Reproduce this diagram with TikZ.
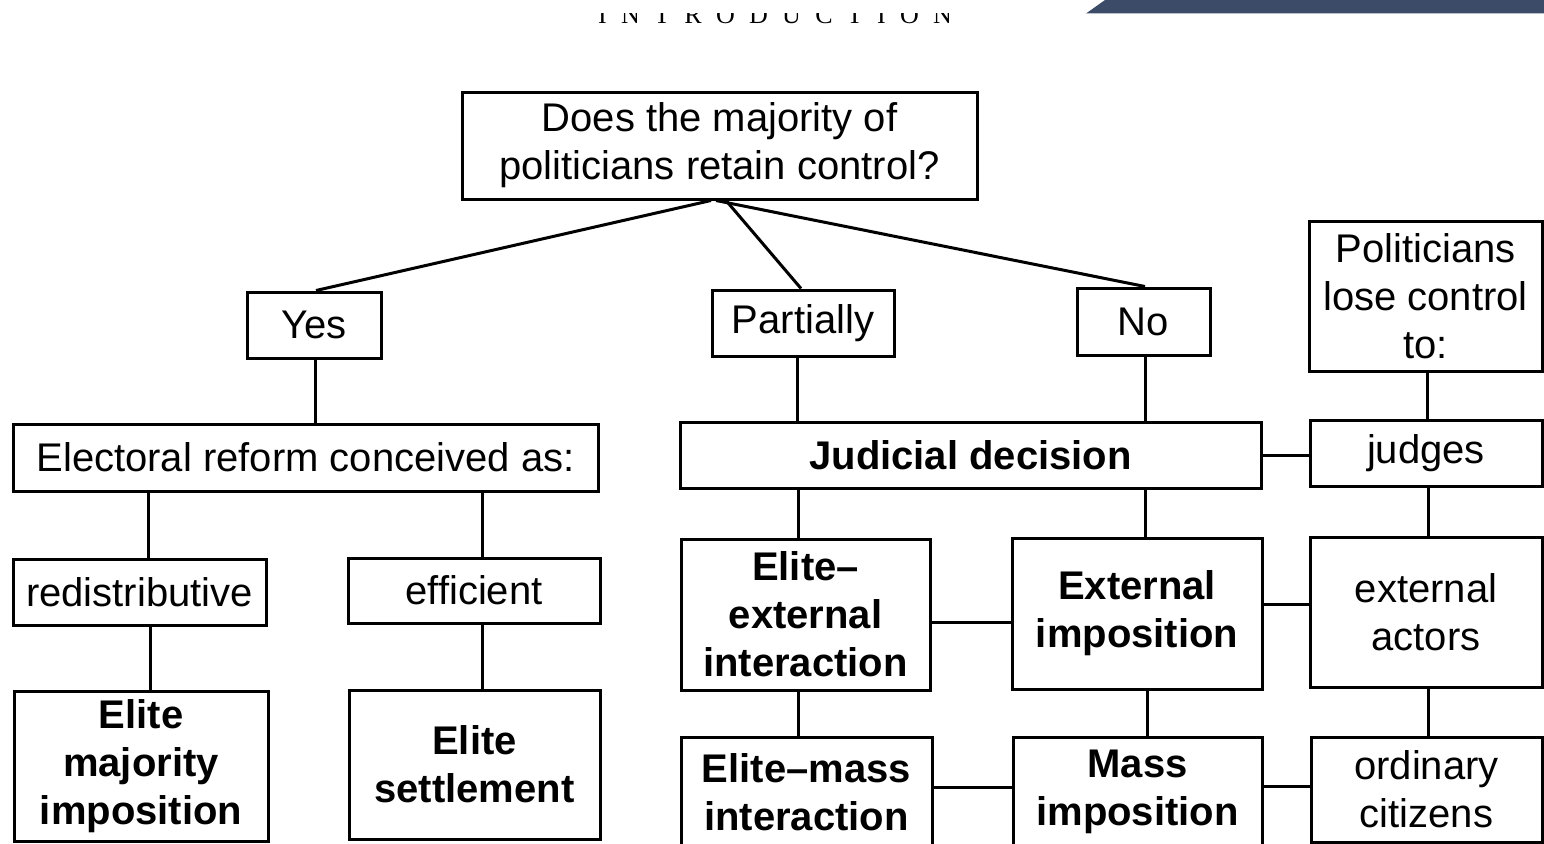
\documentclass[tikz,border=0pt]{standalone}
\usepackage{fontspec}
\setmainfont{Liberation Sans}
\newfontfamily\hdrfont[LetterSpace=55]{Liberation Serif}
\definecolor{bandblue}{HTML}{3C4B67}
\begin{document}
\begin{tikzpicture}[x=1pt,y=-1pt,
  box/.style={draw, line width=3pt, inner sep=0pt, align=center,
    font=\fontsize{40}{48}\selectfont},
  bbox/.style={box, font=\fontsize{40}{48}\selectfont\bfseries},
  link/.style={line width=3pt}]
\useasboundingbox (0,0) rectangle (1544,843);
\clip (0,0) rectangle (1544,843);
% header fragments
\node[anchor=base west, inner sep=0pt, font=\hdrfont\fontsize{26}{30}\selectfont] (hdr) at (598,24) {INTRODUCTION};
\fill[white] (560,-2) rectangle (1000,13);
\fill[bandblue] (1105,0) -- (1550,0) -- (1550,13.5) -- (1086,13.5) -- cycle;
% nodes
\node[box, minimum width=515, minimum height=107] (q) at (719.5,145.5) {Does the majority of\\politicians retain control?};
\node[box, minimum width=134, minimum height=66] (yes) at (314,325) {Yes};
\node[box, minimum width=182, minimum height=66] (part) at (803,323) {Partially};
\node[box, minimum width=133, minimum height=67] (no) at (1143.5,321.5) {No};
\node[box, minimum width=233, minimum height=150] (lose) at (1425.5,296) {Politicians\\lose control\\to:};
\node[box, minimum width=585, minimum height=67] (elect) at (305.5,457.5) {Electoral reform conceived as:};
\node[bbox, minimum width=581, minimum height=66] (jud) at (970.5,455) {Judicial decision};
\node[box, minimum width=232, minimum height=66] (judges) at (1426,453) {judges};
\node[box, minimum width=253, minimum height=66] (redis) at (139.5,592) {redistributive};
\node[box, minimum width=252, minimum height=65] (eff) at (474,590.5) {efficient};
\node[bbox, minimum width=249, minimum height=151] (eei) at (805.5,614.5) {Elite--\\external\\interaction};
\node[bbox, minimum width=250, minimum height=151] (eimp) at (1137,613.5) {External\\imposition};
\node[box, minimum width=232, minimum height=150] (eact) at (1426,612) {external\\actors};
\node[bbox, minimum width=254, minimum height=150] (emi) at (141,766) {Elite\\majority\\imposition};
\node[bbox, minimum width=251, minimum height=149] (es) at (474.5,764.5) {Elite\\settlement};
\node[bbox, minimum width=251, minimum height=110] (emass) at (806.5,792) {Elite--mass\\interaction};
\node[bbox, minimum width=249, minimum height=110] (mimp) at (1137.5,792) {Mass\\imposition};
\node[box, minimum width=231, minimum height=105] (ocit) at (1426.5,789.5) {ordinary\\citizens};
% connectors
\draw[link] (q.south -| 711,0) -- (yes.north -| 316,0);
\draw[link] (q.south -| 726,0) -- (part.north -| 801,0);
\draw[link] (q.south -| 716,0) -- (no.north -| 1145,0);
\draw[link] (yes.south -| 315,0) -- (elect.north -| 315,0);
\draw[link] (part.south -| 797,0) -- (jud.north -| 797,0);
\draw[link] (no.south -| 1145,0) -- (jud.north -| 1145,0);
\draw[link] (lose.south -| 1427,0) -- (judges.north -| 1427,0);
\draw[link] (jud.east |- 0,455) -- (judges.west |- 0,455);
\draw[link] (elect.south -| 148,0) -- (redis.north -| 148,0);
\draw[link] (elect.south -| 482,0) -- (eff.north -| 482,0);
\draw[link] (redis.south -| 150,0) -- (emi.north -| 150,0);
\draw[link] (eff.south -| 482,0) -- (es.north -| 482,0);
\draw[link] (jud.south -| 798,0) -- (eei.north -| 798,0);
\draw[link] (jud.south -| 1145,0) -- (eimp.north -| 1145,0);
\draw[link] (judges.south -| 1428,0) -- (eact.north -| 1428,0);
\draw[link] (eei.east |- 0,622) -- (eimp.west |- 0,622);
\draw[link] (eimp.east |- 0,604) -- (eact.west |- 0,604);
\draw[link] (eei.south -| 798,0) -- (emass.north -| 798,0);
\draw[link] (eimp.south -| 1147,0) -- (mimp.north -| 1147,0);
\draw[link] (eact.south -| 1428,0) -- (ocit.north -| 1428,0);
\draw[link] (emass.east |- 0,787) -- (mimp.west |- 0,787);
\draw[link] (mimp.east |- 0,786) -- (ocit.west |- 0,786);
\end{tikzpicture}
\end{document}
